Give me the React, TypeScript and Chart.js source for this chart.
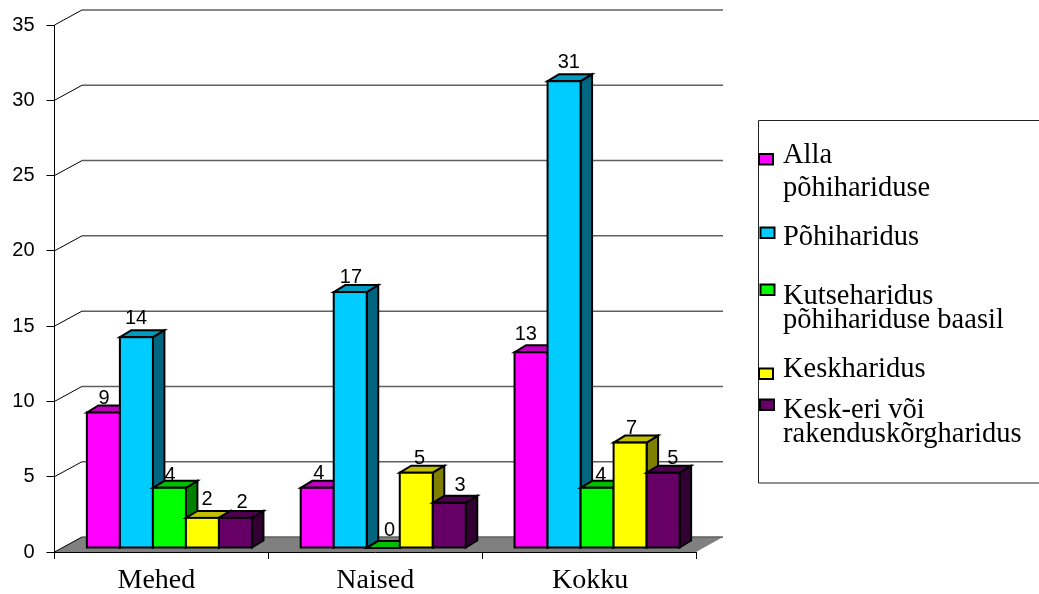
import React, { useEffect, useRef } from "react";
import { Chart, registerables } from "chart.js";

Chart.register(...registerables);

const categories = ["Mehed", "Naised", "Kokku"];
const seriesLabels = ["Alla põhihariduse", "Põhiharidus", "Kutseharidus põhihariduse baasil", "Keskharidus", "Kesk-eri või rakenduskõrgharidus"];
const allaPohi = [9, 4, 13];
const pohi = [14, 17, 31];
const kutse = [4, 0, 4];
const kesk = [2, 5, 7];
const keskEri = [2, 3, 5];
const yTicks = [0, 5, 10, 15, 20, 25, 30, 35];

const seriesValues = [allaPohi, pohi, kutse, kesk, keskEri];
const front = ["#FF00FF", "#00CCFF", "#00FF00", "#FFFF00", "#660066"];
const top = ["#BF00BF", "#0099BF", "#00BF00", "#BFBF00", "#4D004D"];
const side = ["#800080", "#006680", "#008000", "#808000", "#330033"];

// layout constants
const AREA = { left: 54.5, right: 696, top: 25, bottom: 552 };
const WALL = { dx: 27.5, dy: 15 };
const SHIFT = { x: 8, y: 4 };
const DEPTH = { dx: 11.5, dy: 7 };
const GRID_RIGHT = 723;
const X_LABEL_DX = [-5, 0, 1];
const LABEL_OFF: number[][][] = [
  [[1, -8.5], [0, -13], [1, -7], [5, -13], [7, -10]],
  [[2, -9], [1, -9], [6.5, -12], [3.5, -9], [11, -12]],
  [[-5, -12], [5, -13], [4, -7], [1.7, -9], [10, -9]],
];
const LEGEND_BOX = { left: 758.5, top: 120.5, bottom: 483 };
const LEGEND_SWATCH = [
  [759, 154],
  [760.5, 227.5],
  [760.5, 284.5],
  [759, 368.5],
  [760, 399.5],
];
const LEGEND_TEXT: [string, number][] = [
  ["Alla", 163],
  ["põhihariduse", 196],
  ["Põhiharidus", 245],
  ["Kutseharidus", 304],
  ["põhihariduse baasil", 328],
  ["Keskharidus", 377],
  ["Kesk-eri või", 418],
  ["rakenduskõrgharidus", 442],
];

function drawWalls(chart: any) {
  const { ctx, scales } = chart;
  const y = scales.y;
  ctx.save();
  ctx.fillStyle = "#808080";
  ctx.beginPath();
  ctx.moveTo(AREA.left, AREA.bottom);
  ctx.lineTo(AREA.left + WALL.dx, AREA.bottom - WALL.dy);
  ctx.lineTo(GRID_RIGHT, AREA.bottom - WALL.dy);
  ctx.lineTo(AREA.right, AREA.bottom);
  ctx.closePath();
  ctx.fill();
  yTicks.forEach((t) => {
    const py = y.getPixelForValue(t);
    ctx.strokeStyle = "#000000";
    ctx.lineWidth = 1;
    ctx.beginPath();
    ctx.moveTo(AREA.left, py);
    ctx.lineTo(AREA.left + WALL.dx, py - WALL.dy);
    ctx.stroke();
    ctx.strokeStyle = "#5f5f5f";
    ctx.lineWidth = 1.5;
    ctx.beginPath();
    ctx.moveTo(AREA.left + WALL.dx, py - WALL.dy);
    ctx.lineTo(GRID_RIGHT, py - WALL.dy);
    ctx.stroke();
  });
  ctx.restore();
}

function drawBars(chart: any) {
  const { ctx } = chart;
  chart.data.datasets.forEach((_: any, i: number) => {
    const meta = chart.getDatasetMeta(i);
    ctx.save();
    ctx.translate(SHIFT.x, -SHIFT.y);
    ctx.lineWidth = 2;
    ctx.strokeStyle = "#000";
    ctx.lineJoin = "miter";
    meta.data.forEach((el: any) => {
      const l = el.x - el.width / 2;
      const r = el.x + el.width / 2;
      const t = el.y;
      const b = el.base;
      ctx.fillStyle = side[i];
      ctx.beginPath();
      ctx.moveTo(r, t);
      ctx.lineTo(r + DEPTH.dx, t - DEPTH.dy);
      ctx.lineTo(r + DEPTH.dx, b - DEPTH.dy);
      ctx.lineTo(r, b);
      ctx.closePath();
      ctx.fill();
      ctx.stroke();
      ctx.fillStyle = top[i];
      ctx.beginPath();
      ctx.moveTo(l, t);
      ctx.lineTo(l + DEPTH.dx, t - DEPTH.dy);
      ctx.lineTo(r + DEPTH.dx, t - DEPTH.dy);
      ctx.lineTo(r, t);
      ctx.closePath();
      ctx.fill();
      ctx.stroke();
    });
    // the library's own bar elements give the front faces
    meta.controller.draw();
    ctx.lineWidth = 2;
    ctx.strokeStyle = "#000";
    meta.data.forEach((el: any) => {
      ctx.strokeRect(el.x - el.width / 2, el.y, el.width, el.base - el.y);
    });
    ctx.restore();
  });
}

function drawValueLabels(chart: any) {
  const { ctx } = chart;
  ctx.save();
  ctx.font = '20px "Liberation Sans"';
  ctx.fillStyle = "#000";
  ctx.textAlign = "center";
  ctx.textBaseline = "alphabetic";
  chart.data.datasets.forEach((ds: any, i: number) => {
    chart.getDatasetMeta(i).data.forEach((el: any, c: number) => {
      const off = LABEL_OFF[c][i];
      ctx.fillText(String(ds.data[c]), el.x + 7.7 + off[0], el.y - SHIFT.y + off[1]);
    });
  });
  ctx.restore();
}

function drawLegend(chart: any) {
  const { ctx } = chart;
  ctx.save();
  ctx.strokeStyle = "#222";
  ctx.lineWidth = 1;
  ctx.beginPath();
  ctx.moveTo(1039, LEGEND_BOX.top);
  ctx.lineTo(LEGEND_BOX.left, LEGEND_BOX.top);
  ctx.lineTo(LEGEND_BOX.left, LEGEND_BOX.bottom);
  ctx.lineTo(1039, LEGEND_BOX.bottom);
  ctx.stroke();
  ctx.lineWidth = 2;
  ctx.strokeStyle = "#000";
  LEGEND_SWATCH.forEach((s, i) => {
    ctx.fillStyle = front[i];
    ctx.fillRect(s[0], s[1], 14, 10.5);
    ctx.strokeRect(s[0], s[1], 14, 10.5);
  });
  ctx.fillStyle = "#000";
  ctx.textAlign = "left";
  ctx.font = '28.5px "Liberation Serif"';
  LEGEND_TEXT.forEach(([t, y]) => ctx.fillText(t, 783, y));
  ctx.restore();
}

const box3d = {
  id: "box3d",
  beforeDraw(chart: any) {
    const x = chart.scales.x;
    x.getLabelItems().forEach((item: any, i: number) => {
      item.options.translation[0] = x.getPixelForTick(i) + X_LABEL_DX[i];
    });
  },
  beforeDatasetsDraw(chart: any) {
    drawWalls(chart);
    drawBars(chart);
    drawValueLabels(chart);
    drawLegend(chart);
    return false; // datasets are painted left to right above
  },
};

export default function App() {
  const ref = useRef<HTMLCanvasElement>(null);
  useEffect(() => {
    document.body.style.margin = "0";
    const chart = new Chart(ref.current as HTMLCanvasElement, {
      type: "bar",
      data: {
        labels: categories,
        datasets: seriesValues.map((data, i) => ({
          label: seriesLabels[i],
          data,
          backgroundColor: front[i],
          borderWidth: 0,
          categoryPercentage: 0.772,
          barPercentage: 1,
        })),
      },
      options: {
        responsive: false,
        animation: false,
        layout: { padding: { left: 0, top: AREA.top, right: 1039 - AREA.right, bottom: 0 } },
        plugins: { legend: { display: false }, tooltip: { enabled: false }, title: { display: false } },
        scales: {
          x: {
            afterFit: (s: any) => { s.height = 594 - AREA.bottom; },
            grid: { drawOnChartArea: false, color: "#000", tickLength: 7, lineWidth: 1 },
            border: { color: "#000", width: 1 },
            ticks: { color: "#000", font: { family: "Liberation Serif", size: 28 }, padding: 5, maxRotation: 0 },
          },
          y: {
            min: 0,
            max: 35,
            afterFit: (s: any) => { s.width = AREA.left; },
            grid: { drawOnChartArea: false, color: "#000", tickLength: 8, lineWidth: 1 },
            border: { color: "#000", width: 1 },
            ticks: { color: "#000", stepSize: 5, font: { family: "Liberation Sans", size: 20 }, padding: 12 },
          },
        },
      },
      plugins: [box3d],
    } as any);
    return () => chart.destroy();
  }, []);
  return <canvas ref={ref} width={1039} height={594} style={{ display: "block", width: 1039, height: 594 }} />;
}
